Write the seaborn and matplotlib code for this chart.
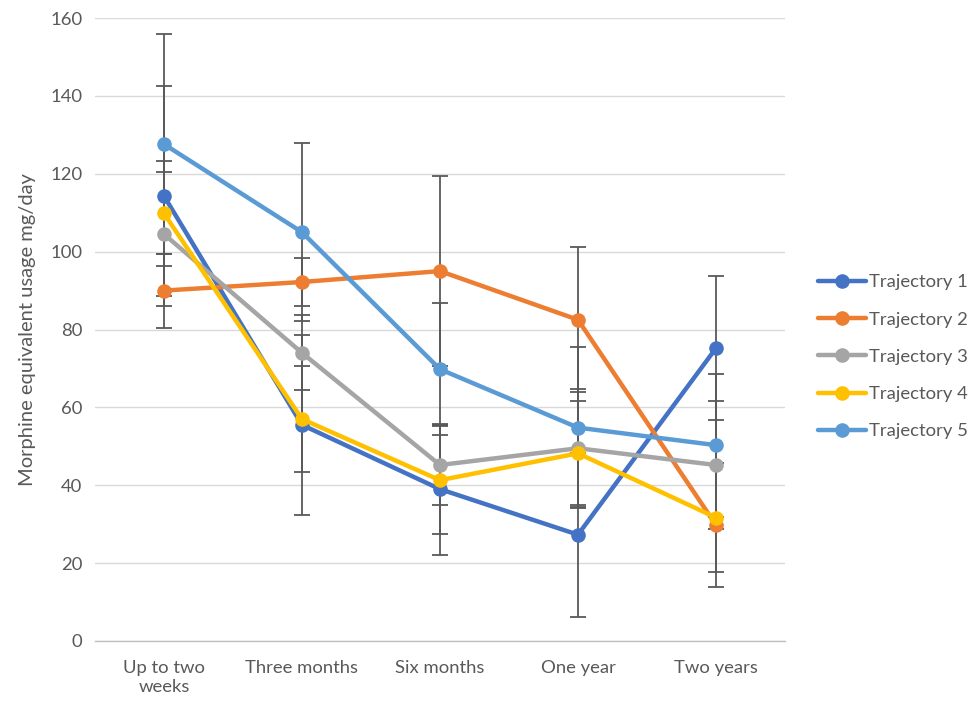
import matplotlib
matplotlib.use("Agg")
import matplotlib.pyplot as plt
import numpy as np
import pandas as pd
import seaborn as sns

# Time points on the x axis
timepoints = ["Up to two\nweeks", "Three months", "Six months", "One year", "Two years"]

# Mean morphine-equivalent usage (mg/day) for each trajectory
traj1 = [114.3, 55.5, 39.0, 27.3, 75.2]
traj2 = [90.0, 92.2, 95.0, 82.5, 29.8]
traj3 = [104.5, 74.0, 45.2, 49.5, 45.2]
traj4 = [109.8, 57.0, 41.3, 48.2, 31.7]
traj5 = [127.6, 105.0, 69.8, 54.8, 50.3]

# Symmetric error amounts for each trajectory
err1 = [28.2, 23.2, 16.8, 21.1, 18.5]
err2 = [9.5, 6.2, 24.4, 18.6, 16.0]
err3 = [16.0, 9.6, 10.3, 15.1, 16.5]
err4 = [13.6, 13.7, 13.9, 13.4, 13.9]
err5 = [28.3, 22.8, 16.9, 20.6, 18.4]

series_names = ["Trajectory 1", "Trajectory 2", "Trajectory 3", "Trajectory 4", "Trajectory 5"]
series_means = [traj1, traj2, traj3, traj4, traj5]
series_errs = [err1, err2, err3, err4, err5]
colors = ["#4472C4", "#ED7D31", "#A5A5A5", "#FFC000", "#5B9BD5"]

sns.set_theme(style="white")
plt.rcParams["font.family"] = ["Lato", "DejaVu Sans"]

rows = []
for name, means, errs in zip(series_names, series_means, series_errs):
    for i, (m, e) in enumerate(zip(means, errs)):
        rows.append({"pos": i, "value": m, "err": e, "series": name})
df = pd.DataFrame(rows)

fig = plt.figure(figsize=(9.71, 7.04), dpi=100)
ax = fig.add_axes([0.0978, 0.0895, 0.7106, 0.8849])

# Error bars sit beneath the series lines
for name in series_names:
    sub = df[df["series"] == name]
    ax.errorbar(sub["pos"], sub["value"], yerr=sub["err"], fmt="none",
                ecolor="#595959", elinewidth=1.3, capsize=6, capthick=1.3, zorder=1.5)

sns.lineplot(data=df, x="pos", y="value", hue="series", palette=colors,
             hue_order=series_names, marker="o", markersize=10.5, markeredgewidth=0,
             linewidth=3.2, ax=ax, zorder=3, sort=False)

ax.set_xlim(-0.5, 4.5)
ax.set_ylim(0, 160)
ax.set_yticks(np.arange(0, 161, 20))
ax.set_xticks(range(len(timepoints)))
ax.set_xticklabels(timepoints)
ax.yaxis.grid(True, color="#D9D9D9", linewidth=1)
ax.set_axisbelow(True)
for side in ["top", "right", "left"]:
    ax.spines[side].set_visible(False)
ax.spines["bottom"].set_color("#BFBFBF")
ax.spines["bottom"].set_linewidth(1)
ax.tick_params(axis="y", length=0, labelsize=13.3, labelcolor="#595959", pad=9)
ax.tick_params(axis="x", length=0, labelsize=13.3, labelcolor="#595959", pad=14)
ax.set_xlabel("")
ax.set_ylabel("Morphine equivalent usage mg/day", fontsize=14.5, color="#595959", labelpad=10)

handles, labels = ax.get_legend_handles_labels()
ax.legend(handles, labels, loc="center left", bbox_to_anchor=(0.842, 0.493),
          bbox_transform=fig.transFigure, frameon=False, fontsize=13.3,
          labelspacing=1.15, handlelength=2.6, handletextpad=0.2,
          borderpad=0, borderaxespad=0, labelcolor="#595959")

fig.savefig("out.png", dpi=100)
